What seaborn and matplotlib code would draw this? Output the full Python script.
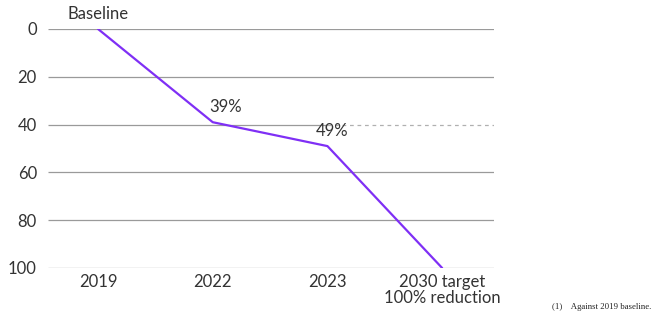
import matplotlib
matplotlib.use("Agg")
import matplotlib.pyplot as plt
import seaborn as sns
import pandas as pd

# Emissions reduction trajectory (% reduction against 2019 baseline)
categories = ["2019", "2022", "2023", "2030 target\n100% reduction"]
reduction = [0, 39, 49, 100]
point_labels = ["Baseline", "39%", "49%", ""]
y_ticks = [0, 20, 40, 60, 80, 100]
target_ref = 40  # dashed continuation of the 40% line beyond 2023

sns.set_theme(style="white")
plt.rcParams["font.family"] = ["Lato", "DejaVu Sans"]

df = pd.DataFrame({"pos": range(len(categories)), "reduction": reduction})

fig = plt.figure(figsize=(6.55, 3.25), dpi=100)
ax = fig.add_axes([0.0733, 0.1754, 0.6809, 0.7354])

purple = "#7F2FF5"
grid_col = "#9a9a9a"

sns.lineplot(data=df, x="pos", y="reduction", color=purple, linewidth=1.6, ax=ax)

x_left, x_right = -0.436, 3.452
ax.set_xlim(x_left, x_right)
ax.set_ylim(100, 0)

for v in y_ticks:
    if v == target_ref:
        ax.hlines(v, x_left, 2, color=grid_col, linewidth=0.9, zorder=0)
        ax.hlines(v, 2, x_right, color="#b0b0b0", linewidth=0.9,
                  linestyles=(0, (3, 3)), zorder=0)
    else:
        ax.hlines(v, x_left, x_right, color=grid_col, linewidth=0.9, zorder=0)

ax.set_xticks(range(len(categories)))
ax.set_xticklabels(categories, fontsize=12, color="#333333", linespacing=1.0)
ax.set_yticks(y_ticks)
ax.set_yticklabels([str(v) for v in y_ticks], fontsize=12, color="#333333")
ax.tick_params(axis="x", length=0, pad=4)
ax.tick_params(axis="y", length=0, pad=8)
ax.set_xlabel("")
ax.set_ylabel("")
for s in ax.spines.values():
    s.set_visible(False)

# Point annotations
offsets = {0: (-0.27, -3.0), 1: (-0.03, -3.0), 2: (-0.1, -3.0)}
for i, (v, lab) in enumerate(zip(reduction, point_labels)):
    if lab:
        dx, dy = offsets[i]
        ax.text(i + dx, v + dy, lab, fontsize=12, color="#333333",
                ha="left", va="bottom")

fig.text(0.995, 0.055, "(1)    Against 2019 baseline.", fontsize=6.3,
         family="Liberation Serif", color="#222222", ha="right", va="center")

fig.savefig("out.png", dpi=100)
